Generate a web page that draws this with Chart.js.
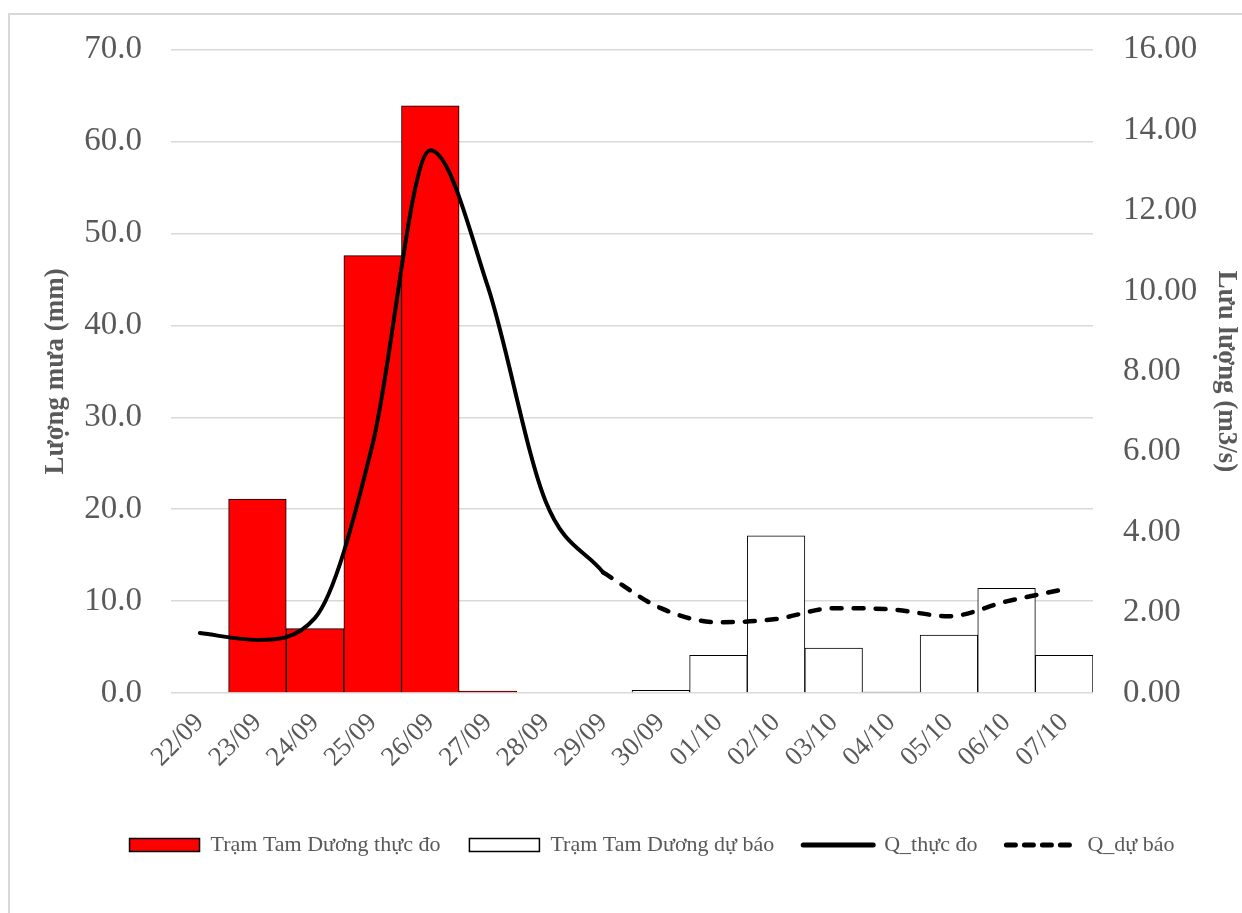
<!DOCTYPE html>
<html>
<head>
<meta charset="utf-8">
<script src="https://cdn.jsdelivr.net/npm/chart.js@4/dist/chart.umd.min.js"></script>
<style>
  html, body { margin: 0; padding: 0; background: #fff; }
  #wrap { position: relative; width: 1242px; height: 913px; overflow: hidden; }
  #frame { position: absolute; left: 8px; top: 13px; width: 1400px; height: 1200px; border: 2px solid #d9d9d9; box-sizing: border-box; pointer-events: none; }
  canvas { position: absolute; left: 0; top: 0; }
</style>
</head>
<body>
<div id="wrap">
  <canvas id="c" width="1242" height="913"></canvas>
  <div id="frame"></div>
</div>
<script>
const categories = ['22/09','23/09','24/09','25/09','26/09','27/09','28/09','29/09','30/09','01/10','02/10','03/10','04/10','05/10','06/10','07/10'];
const rainObserved = [null, 21.1, 7.0, 47.6, 63.9, 0.2, null, null, null, null, null, null, null, null, null, null];
const rainForecast = [null, null, null, null, null, null, null, null, 0.3, 4.1, 17.1, 4.9, 0.1, 6.3, 11.4, 4.1];
const qObserved = [1.49, 1.32, 1.87, 6.2, 13.5, 10.1, 4.77, 3.0, null, null, null, null, null, null, null, null];
const qForecast = [null, null, null, null, null, null, null, 3.0, 2.11, 1.76, 1.84, 2.11, 2.08, 1.91, 2.28, 2.58];
const leftTicks = { min: 0, max: 70, step: 10 };
const rightTicks = { min: 0, max: 16, step: 2 };
const labels = ['Trạm Tam Dương thực đo', 'Trạm Tam Dương dự báo', 'Q_thực đo', 'Q_dự báo'];
const axisTitles = ['Lượng mưa (mm)', 'Lưu lượng (m3/s)'];

const FONT = "'Liberation Serif', 'Times New Roman', serif";
const TXT = '#595959';

const legendShift = {
  id: 'legendShift',
  afterLayout(chart) {
    const lg = chart.legend;
    if (lg) { lg.left += 31; lg.right += 31; }
  }
};

new Chart(document.getElementById('c'), {
  data: {
    labels: categories,
    datasets: [
      { type: 'bar', label: labels[0], data: rainObserved, yAxisID: 'y', backgroundColor: '#ff0000', borderColor: '#000000', borderWidth: 1, barPercentage: 1, categoryPercentage: 1, grouped: false, order: 2 },
      { type: 'bar', label: labels[1], data: rainForecast, yAxisID: 'y', backgroundColor: '#ffffff', borderColor: '#000000', borderWidth: 1, barPercentage: 1, categoryPercentage: 1, grouped: false, order: 2 },
      { type: 'line', label: labels[2], data: qObserved, yAxisID: 'y1', borderColor: '#000000', borderWidth: 4, pointRadius: 0, cubicInterpolationMode: 'monotone', borderCapStyle: 'round', borderJoinStyle: 'round', fill: false, order: 0 },
      { type: 'line', label: labels[3], data: qForecast, yAxisID: 'y1', borderColor: '#000000', borderWidth: 4.5, borderDash: [10, 12], borderCapStyle: 'round', pointRadius: 0, cubicInterpolationMode: 'monotone', fill: false, order: 0 }
    ]
  },
  plugins: [legendShift],
  options: {
    responsive: false,
    animation: false,
    devicePixelRatio: 1,
    layout: { padding: { top: 46, left: 0, right: 0, bottom: 47 } },
    plugins: {
      tooltip: { enabled: false },
      legend: {
        position: 'bottom',
        labels: {
          usePointStyle: true,
          pointStyleWidth: 70,
          boxHeight: 13,
          padding: 29,
          color: TXT,
          font: { family: FONT, size: 22 },
          generateLabels: (chart) => chart.data.datasets.map((ds, i) => {
            const isLine = ds.type === 'line';
            return {
              text: ds.label,
              fillStyle: ds.backgroundColor || '#000',
              strokeStyle: '#000000',
              lineWidth: isLine ? 5 : 1.5,
              lineDash: ds.borderDash ? [9, 9] : [],
              lineCap: isLine ? 'round' : 'butt',
              pointStyle: isLine ? 'line' : 'rect',
              fontColor: TXT,
              hidden: false,
              datasetIndex: i
            };
          })
        }
      }
    },
    scales: {
      x: {
        offset: true,
        grid: { display: false, drawTicks: false },
        border: { display: false },
        ticks: { color: TXT, font: { family: FONT, size: 27 }, minRotation: 45, maxRotation: 45, padding: 14, autoSkip: false },
        afterFit: (s) => { s.height = 112; }
      },
      y: {
        position: 'left',
        min: leftTicks.min, max: leftTicks.max,
        grid: { color: '#d9d9d9', lineWidth: 1.5, drawTicks: false },
        border: { display: false },
        ticks: { stepSize: leftTicks.step, color: TXT, font: { family: FONT, size: 33 }, padding: 29, callback: (v) => Number(v).toFixed(1) },
        title: { display: true, text: axisTitles[0], color: TXT, font: { family: FONT, size: 27, weight: 'bold' }, padding: { top: 40, bottom: 0 } },
        afterFit: (s) => { s.width = 171; }
      },
      y1: {
        position: 'right',
        min: rightTicks.min, max: rightTicks.max,
        grid: { display: false, drawTicks: false },
        border: { display: false },
        ticks: { stepSize: rightTicks.step, color: TXT, font: { family: FONT, size: 33 }, padding: 30, callback: (v) => Number(v).toFixed(2) },
        title: { display: true, text: axisTitles[1], color: TXT, font: { family: FONT, size: 27, weight: 'bold' }, padding: { top: 0, bottom: 0 } },
        afterFit: (s) => { s.width = 149; }
      }
    }
  }
});
</script>
</body>
</html>
